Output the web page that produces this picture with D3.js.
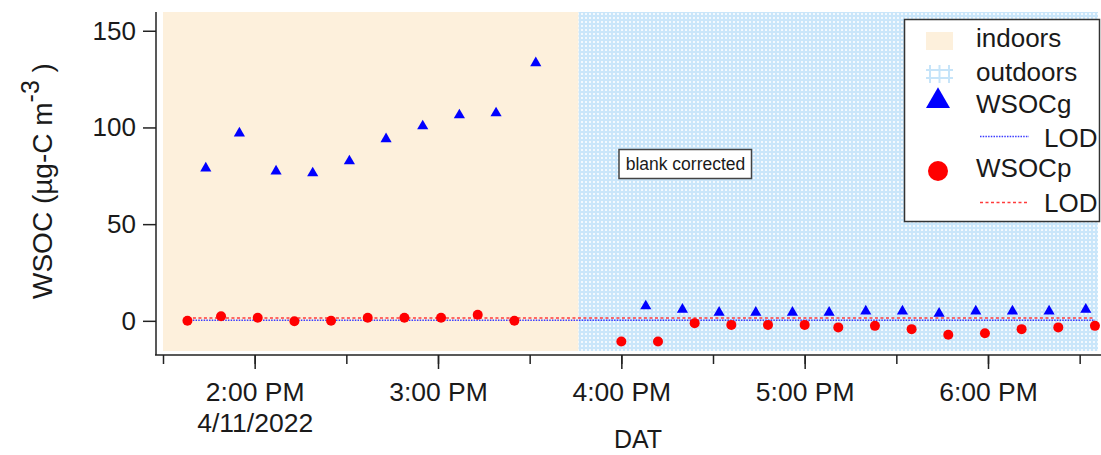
<!DOCTYPE html>
<html>
<head>
<meta charset="utf-8">
<script src="https://cdn.jsdelivr.net/npm/d3@7"></script>
<style>
  body { margin: 0; background: #fff; }
  text { font-family: "Liberation Sans", Arial, sans-serif; fill: #1a1a1a; }
</style>
</head>
<body>
<script>
// sample times (4/11/2022) and values
var wsocgTimes = ["13:44","13:55","14:07","14:19","14:31","14:43","14:55","15:07","15:19","15:32",
                  "16:08","16:20","16:32","16:44","16:56","17:08","17:20","17:32","17:44","17:56","18:08","18:20","18:32"];
var wsocgValues = [78.9, 97.0, 77.4, 76.4, 82.6, 94.0, 100.7, 106.4, 107.4, 133.3,
                   7.6, 5.9, 4.3, 4.3, 4.3, 4.3, 5.0, 5.0, 3.8, 5.0, 5.0, 5.0, 5.9];
var wsocpTimes = ["13:38","13:49","14:01","14:13","14:25","14:37","14:49","15:01","15:13","15:25",
                  "16:00","16:12","16:24","16:36","16:48","17:00","17:11","17:23","17:35","17:47","17:59","18:11","18:23","18:35"];
var wsocpValues = [0.0, 2.4, 1.6, -0.2, 0.0, 1.6, 1.6, 1.6, 3.1, 0.0,
                   -10.7, -10.7, -1.2, -2.1, -2.1, -2.1, -3.4, -2.6, -4.3, -7.2, -6.4, -4.3, -3.4, -2.6];
var lodG = 0.3;
var lodP = 1.5;
var periods = [{name: "indoors", start: "13:30", end: "15:46"}, {name: "outdoors", start: "15:46", end: "18:36"}];
var xDomain = ["13:30", "18:36"];
var yDomain = [-15.6, 159.7];
var yTicks = [0, 50, 100, 150];

var parseT = function(s){ var p = s.split(":"); return new Date(2022, 3, 11, +p[0], +p[1]); };

var width = 1101, height = 455;
var svg = d3.select("body").append("svg").attr("width", width).attr("height", height);

var x = d3.scaleTime().domain(xDomain.map(parseT)).range([163, 1098]);
var y = d3.scaleLinear().domain(yDomain).range([351, 12]);

// patterns
var defs = svg.append("defs");
var pat = defs.append("pattern").attr("id","grid").attr("patternUnits","userSpaceOnUse")
        .attr("width",4).attr("height",4);
pat.append("rect").attr("width",4).attr("height",4).attr("fill","#cae6fa");
pat.append("rect").attr("x",1).attr("y",1).attr("width",2).attr("height",2).attr("fill","#f3f9fe");

// background periods
svg.selectAll("rect.period")
        .data(periods)
        .enter().append("rect")
                .attr("class","period")
                .attr("x",function(d){ return x(parseT(d.start)); })
                .attr("y",y(yDomain[1]))
                .attr("width",function(d){ return x(parseT(d.end)) - x(parseT(d.start)); })
                .attr("height",y(yDomain[0]) - y(yDomain[1]))
                .attr("fill",function(d){ return d.name == "indoors" ? "#fdf0dc" : "url(#grid)"; });

// LOD lines
var lodStart = x(parseT(wsocpTimes[0])), lodEnd = x(parseT(wsocpTimes[wsocpTimes.length-1]));
svg.append("line").attr("x1",lodStart).attr("x2",lodEnd).attr("y1",y(lodP)).attr("y2",y(lodP))
        .attr("stroke","#ff3b3b").attr("stroke-width",1.6).attr("stroke-dasharray","3,2.5");
svg.append("line").attr("x1",lodStart).attr("x2",lodEnd).attr("y1",y(lodG)).attr("y2",y(lodG))
        .attr("stroke","#3b3bff").attr("stroke-width",1.6).attr("stroke-dasharray","1.5,1.2");

// WSOCg triangles
var tri = d3.symbol().type(d3.symbolTriangle).size(54);
svg.selectAll("path.wsocg")
        .data(wsocgTimes)
        .enter().append("path")
                .attr("class","wsocg")
                .attr("d",tri)
                .attr("fill","#0000ff")
                .attr("transform",function(d,i){ return "translate("+x(parseT(d))+","+y(wsocgValues[i])+")"; });

// WSOCp circles
svg.selectAll("circle.wsocp")
        .data(wsocpTimes)
        .enter().append("circle")
                .attr("class","wsocp")
                .attr("r",5)
                .attr("fill","#ff0000")
                .attr("cx",function(d){ return x(parseT(d)); })
                .attr("cy",function(d,i){ return y(wsocpValues[i]); });

// axes
svg.append("line").attr("x1",156).attr("x2",156).attr("y1",12).attr("y2",355)
        .attr("stroke","#222").attr("stroke-width",1.5);
svg.append("line").attr("x1",155).attr("x2",1101).attr("y1",355).attr("y2",355)
        .attr("stroke","#222").attr("stroke-width",1.5);

var yAxis = svg.append("g").attr("transform","translate(156,0)")
        .call(d3.axisLeft(y).tickValues(yTicks).tickSize(13).tickPadding(7).tickSizeOuter(0));
yAxis.select(".domain").remove();
yAxis.selectAll("line").attr("stroke","#222").attr("stroke-width",1.5);
yAxis.selectAll("text").attr("font-size","26px").attr("fill","#1a1a1a")
        .attr("font-family","Liberation Sans, Arial, sans-serif");

var xMinor = svg.append("g").attr("transform","translate(0,355)")
        .call(d3.axisBottom(x).ticks(d3.timeMinute.every(30)).tickSize(9).tickFormat(""));
xMinor.select(".domain").remove();
xMinor.selectAll("line").attr("stroke","#222").attr("stroke-width",1.5);

var fmt = d3.timeFormat("%-I:%M %p");
var xAxis = svg.append("g").attr("transform","translate(0,355)")
        .call(d3.axisBottom(x).ticks(d3.timeHour.every(1)).tickSize(14).tickFormat(fmt));
xAxis.select(".domain").remove();
xAxis.selectAll("line").attr("stroke","#222").attr("stroke-width",1.5);
xAxis.selectAll("text").attr("font-size","26.5px").attr("fill","#1a1a1a")
        .attr("font-family","Liberation Sans, Arial, sans-serif")
        .attr("y",46).attr("dy",0);
// date under the first hour label
xAxis.selectAll(".tick").filter(function(d,i){ return i == 0; })
        .append("text").attr("y",77).attr("fill","#1a1a1a").attr("font-size","26.5px")
        .attr("font-family","Liberation Sans, Arial, sans-serif").attr("text-anchor","middle")
        .text(d3.timeFormat("%-m/%-d/%Y"));

// axis titles
svg.append("text").attr("x",638).attr("y",448).attr("text-anchor","middle")
        .attr("font-size","25px").text("DAT");
var yl = svg.append("text").attr("transform","translate(52,299) rotate(-90)").attr("font-size","28px");
yl.append("tspan").text("WSOC (µg-C m");
yl.append("tspan").attr("dy",-13).attr("font-size","25px").text("-3");
yl.append("tspan").attr("dy",13).text(" )");

// annotation
svg.append("rect").attr("x",619).attr("y",149.5).attr("width",132.5).attr("height",29)
        .attr("fill","#fff").attr("stroke","#444").attr("stroke-width",1.5);
svg.append("text").attr("x",685.5).attr("y",170).attr("text-anchor","middle")
        .attr("font-size","17.5px").text("blank corrected");

// legend
var lg = svg.append("g");
lg.append("rect").attr("x",904.5).attr("y",19.5).attr("width",195).attr("height",202)
        .attr("fill","#fff").attr("stroke","#333").attr("stroke-width",1.5);
lg.append("rect").attr("x",926).attr("y",32).attr("width",27).attr("height",18).attr("fill","#fdf0dc");
[930, 939.5, 949].forEach(function(v){
        lg.append("line").attr("x1",v).attr("x2",v).attr("y1",65).attr("y2",83)
                .attr("stroke","#c6e4f9").attr("stroke-width",2);
});
[70, 78].forEach(function(v){
        lg.append("line").attr("x1",926).attr("x2",953).attr("y1",v).attr("y2",v)
                .attr("stroke","#c6e4f9").attr("stroke-width",2);
});
lg.append("path").attr("d",d3.symbol().type(d3.symbolTriangle).size(250))
        .attr("transform","translate(938,101)").attr("fill","#0000ff");
lg.append("circle").attr("cx",938).attr("cy",171).attr("r",10).attr("fill","#ff0000");
lg.append("line").attr("x1",980).attr("x2",1029).attr("y1",136.5).attr("y2",136.5)
        .attr("stroke","#3b3bff").attr("stroke-width",1.6).attr("stroke-dasharray","1.5,1.2");
lg.append("line").attr("x1",980).attr("x2",1029).attr("y1",202.5).attr("y2",202.5)
        .attr("stroke","#ff3b3b").attr("stroke-width",1.6).attr("stroke-dasharray","3,2.5");
var legText = [["indoors",976,47],["outdoors",976,81],["WSOCg",976,113],["LOD",1044,147],["WSOCp",976,177],["LOD",1044,212]];
lg.selectAll("text.leg")
        .data(legText)
        .enter().append("text")
                .attr("class","leg")
                .attr("x",function(d){ return d[1]; })
                .attr("y",function(d){ return d[2]; })
                .attr("font-size","26px")
                .text(function(d){ return d[0]; })
</script>
</body>
</html>
